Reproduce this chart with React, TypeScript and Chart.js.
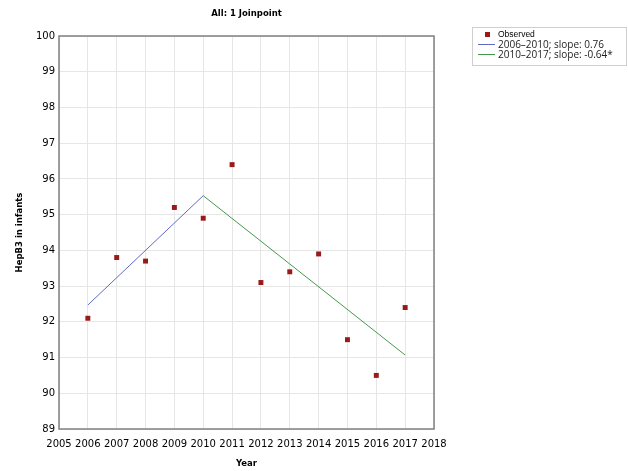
import React, { useEffect, useRef } from "react";
import { Chart, registerables } from "chart.js";

Chart.register(...registerables);

const titleText = "All: 1 Joinpoint";
const xTitle = "Year";
const yTitle = "HepB3 in infants";

const years = [2006, 2007, 2008, 2009, 2010, 2011, 2012, 2013, 2014, 2015, 2016, 2017];
const observed = [92.1, 93.8, 93.7, 95.2, 94.9, 96.4, 93.1, 93.4, 93.9, 91.5, 90.5, 92.4];

const seg1Years = [2006, 2010];
const seg1Values = [92.47, 95.53];
const seg2Years = [2010, 2017];
const seg2Values = [95.53, 91.07];

const observedLabel = "Observed";
const seg1Label = "2006–2010; slope: 0.76";
const seg2Label = "2010–2017; slope: -0.64*";

const xMin = 2005;
const xMax = 2018;
const yMin = 89;
const yMax = 100;

const RED = "#9a1a1a";
const BLUE = "#6169c9";
const GREEN = "#46984a";
const GRID = "#e6e6e6";
const FRAME = "#808080";

const overlayPlugin = {
  id: "overlay",
  afterDraw(chart: any) {
    const { ctx, chartArea } = chart;
    ctx.save();
    // frame
    ctx.strokeStyle = FRAME;
    ctx.lineWidth = 1.5;
    ctx.strokeRect(chartArea.left, chartArea.top, chartArea.right - chartArea.left, chartArea.bottom - chartArea.top);
    // title
    ctx.fillStyle = "#000";
    ctx.font = "bold 8.5px 'DejaVu Sans'";
    ctx.textAlign = "center";
    ctx.textBaseline = "middle";
    ctx.fillText(titleText, (chartArea.left + chartArea.right) / 2, 14);
    // legend
    const bx = 472, by = 27, bw = 154, bh = 38;
    ctx.fillStyle = "#fff";
    ctx.fillRect(bx, by, bw, bh);
    ctx.strokeStyle = "#cfcfcf";
    ctx.lineWidth = 1;
    ctx.strokeRect(bx + 0.5, by + 0.5, bw, bh);
    const ds = chart.data.datasets;
    // row 1 - observed
    ctx.fillStyle = ds[0].backgroundColor;
    ctx.fillRect(485, 32, 5, 5);
    ctx.fillStyle = "#000";
    ctx.textAlign = "left";
    ctx.font = "8.5px 'Liberation Sans'";
    ctx.fillText(ds[0].label, 498, 35);
    // rows 2,3
    const rows = [
      { d: ds[1], y: 44.5 },
      { d: ds[2], y: 54.5 },
    ];
    ctx.font = "10px 'Open Sans'";
    for (const r of rows) {
      ctx.strokeStyle = r.d.borderColor;
      ctx.lineWidth = 1;
      ctx.beginPath();
      ctx.moveTo(478, r.y);
      ctx.lineTo(495, r.y);
      ctx.stroke();
      ctx.fillStyle = "#222";
      ctx.fillText(r.d.label, 498, r.y + 0.5);
    }
    ctx.restore();
  },
};

export default function App() {
  const ref = useRef<HTMLCanvasElement>(null);
  useEffect(() => {
    if (!ref.current) return;
    const tickFont = { family: "'DejaVu Sans'", size: 10 };
    const titleFont = { family: "'DejaVu Sans'", size: 8.5, weight: "bold" as const };
    const chart = new Chart(ref.current, {
      type: "scatter",
      data: {
        datasets: [
          {
            type: "scatter",
            label: observedLabel,
            data: years.map((x, i) => ({ x, y: observed[i] })),
            pointStyle: "rect",
            pointRadius: 3.5,
            backgroundColor: RED,
            borderWidth: 0,
          },
          {
            type: "line",
            label: seg1Label,
            data: seg1Years.map((x, i) => ({ x, y: seg1Values[i] })),
            borderColor: BLUE,
            backgroundColor: BLUE,
            borderWidth: 1,
            pointRadius: 0,
            fill: false,
          },
          {
            type: "line",
            label: seg2Label,
            data: seg2Years.map((x, i) => ({ x, y: seg2Values[i] })),
            borderColor: GREEN,
            backgroundColor: GREEN,
            borderWidth: 1,
            pointRadius: 0,
            fill: false,
          },
        ],
      } as any,
      options: {
        responsive: false,
        animation: false,
        layout: { padding: { left: 0, top: 36, right: 194, bottom: 0 } },
        plugins: { legend: { display: false }, tooltip: { enabled: false }, title: { display: false } },
        scales: {
          x: {
            type: "linear",
            min: xMin,
            max: xMax,
            ticks: {
              stepSize: 1,
              font: tickFont,
              color: "#000",
              padding: 9,
              autoSkip: false,
              maxRotation: 0,
              minRotation: 0,
              callback: (v: any) => String(v),
            },
            grid: { color: GRID, drawTicks: false },
            border: { display: false },
            title: { display: true, text: xTitle, font: titleFont, color: "#000", padding: { top: 0, bottom: 2 } },
            afterFit: (s: any) => { s.height = 42; },
          },
          y: {
            type: "linear",
            min: yMin,
            max: yMax,
            ticks: { stepSize: 1, font: tickFont, color: "#000", padding: 4 },
            grid: { color: GRID, drawTicks: false },
            border: { display: false },
            title: { display: true, text: yTitle, font: titleFont, color: "#000", padding: { top: 15, bottom: 0 } },
            afterFit: (s: any) => { s.width = 59; },
          },
        },
      } as any,
      plugins: [overlayPlugin],
    });
    return () => chart.destroy();
  }, []);
  return (
    <div style={{ position: "absolute", left: 0, top: 0, width: 628, height: 471, background: "#fff" }}>
      <canvas ref={ref} width={628} height={471} style={{ width: 628, height: 471, display: "block" }} />
    </div>
  );
}
